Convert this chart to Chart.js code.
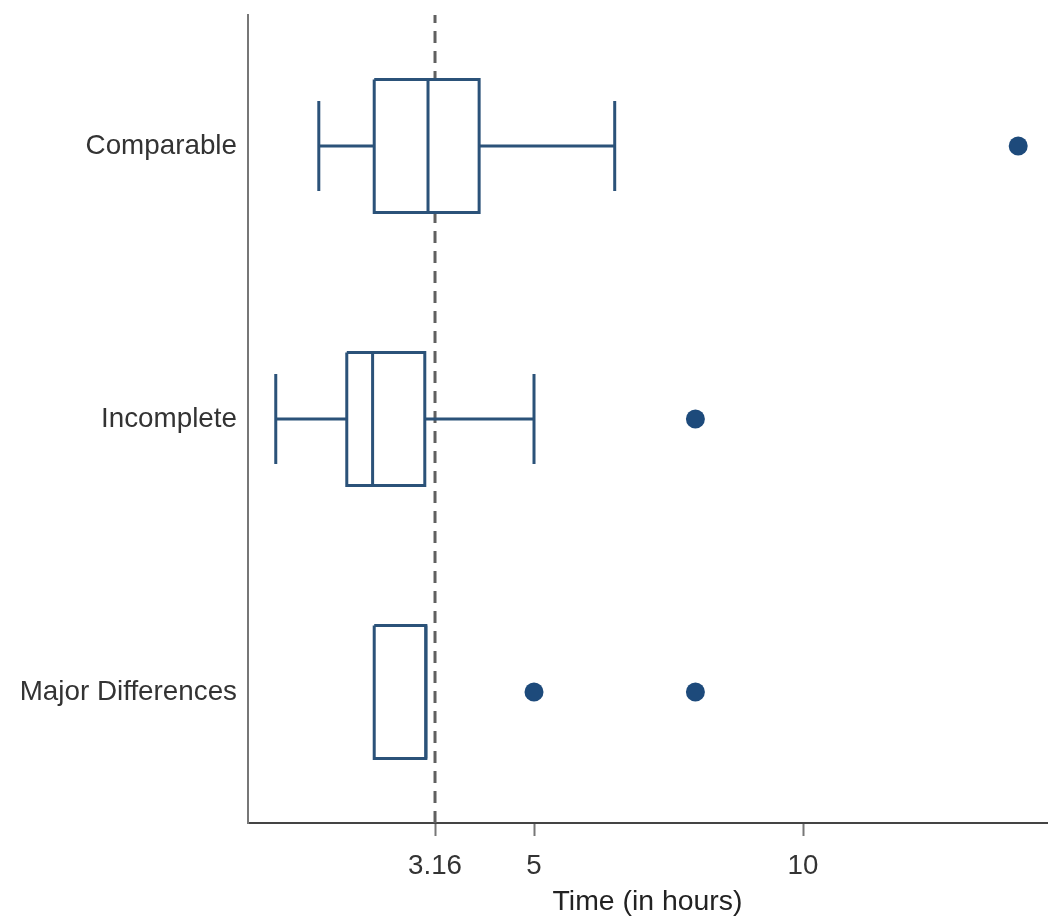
<!DOCTYPE html>
<html><head><meta charset="utf-8">
<script src="https://cdn.jsdelivr.net/npm/chart.js@4/dist/chart.umd.min.js"></script>
<style>html,body{margin:0;padding:0;background:#fff;overflow:hidden}canvas{display:block}</style>
</head><body>
<canvas id="c" width="1050" height="918"></canvas>
<script>
// ---- data ----
const categories = ['Comparable', 'Incomplete', 'Major Differences'];
const whiskerLow = [1.0, 0.2, null];
const q1 = [2.03, 1.52, 2.03];
const median = [3.03, 2.0, 2.99];
const q3 = [3.98, 2.97, 2.99];
const whiskerHigh = [6.5, 5.0, null];
const outliers = [[14.0], [8.0], [5.0, 8.0]];
const referenceLine = 3.16;
const xTickValues = [3.16, 5, 10];
const xTitle = 'Time (in hours)';

// ---- styling ----
const BOX_COLOR = '#2b5279';
const DOT_COLOR = '#1d4a7b';
const BOX_HALF = 0.2436;
const CAP_HALF = 0.165;
const X_MIN = -0.316, X_MAX = 14.535;
const Y_MIN = -0.48, Y_MAX = 2.48;

// pick a condensed sans if present, otherwise size a regular sans to the reference widths
const probe = document.createElement('canvas').getContext('2d');
function fontExists(f) {
  probe.font = '40px monospace';
  const a = probe.measureText('Major Differences 3.16').width;
  probe.font = `40px '${f}', monospace`;
  return Math.abs(probe.measureText('Major Differences 3.16').width - a) > 0.5;
}
const narrow = ['Liberation Sans Narrow', 'Arial Narrow'].find(fontExists);
const FAMILY = narrow ? `'${narrow}', 'Liberation Sans', sans-serif` : `'Liberation Sans', Arial, sans-serif`;
function fitSize(text, targetWidth) {
  probe.font = `100px ${FAMILY}`;
  return Math.round(10 * 100 * targetWidth / probe.measureText(text).width) / 10;
}
const Y_LABEL_SIZE = fitSize('Major Differences', 217);
const X_TICK_SIZE = fitSize('3.16', 54);
const TITLE_SIZE = fitSize(xTitle, 190);

const pos = i => categories.length - 1 - i;
const lineDs = (pts, extra) => Object.assign({
  data: pts, showLine: true, borderColor: BOX_COLOR, borderWidth: 3,
  pointRadius: 0, pointHoverRadius: 0, tension: 0, fill: false,
  borderCapStyle: 'butt', borderJoinStyle: 'miter', order: 2
}, extra || {});

const datasets = [];
datasets.push(lineDs([{x: referenceLine, y: Y_MIN}, {x: referenceLine, y: Y_MAX}],
  {borderColor: '#606060', borderWidth: 3, borderDash: [12, 8], order: 10}));

categories.forEach((c, i) => {
  const y = pos(i);
  datasets.push(lineDs([
    {x: q1[i], y: y + BOX_HALF}, {x: q3[i], y: y + BOX_HALF},
    {x: q3[i], y: y - BOX_HALF}, {x: q1[i], y: y - BOX_HALF},
    {x: q1[i], y: y + BOX_HALF}
  ], {fill: 'shape', backgroundColor: '#ffffff', order: 5}));
  datasets.push(lineDs([{x: median[i], y: y + BOX_HALF}, {x: median[i], y: y - BOX_HALF}], {order: 1}));
  if (whiskerLow[i] !== null) {
    datasets.push(lineDs([{x: whiskerLow[i], y: y}, {x: q1[i], y: y}]));
    datasets.push(lineDs([{x: whiskerLow[i], y: y + CAP_HALF}, {x: whiskerLow[i], y: y - CAP_HALF}]));
  }
  if (whiskerHigh[i] !== null) {
    datasets.push(lineDs([{x: q3[i], y: y}, {x: whiskerHigh[i], y: y}]));
    datasets.push(lineDs([{x: whiskerHigh[i], y: y + CAP_HALF}, {x: whiskerHigh[i], y: y - CAP_HALF}]));
  }
  datasets.push({
    data: outliers[i].map(v => ({x: v, y: y})),
    pointRadius: 9.5, pointHoverRadius: 9.5,
    backgroundColor: DOT_COLOR, borderColor: DOT_COLOR, borderWidth: 0,
    showLine: false, order: 0
  });
});

new Chart(document.getElementById('c'), {
  type: 'scatter',
  data: {datasets},
  options: {
    responsive: false, animation: false, devicePixelRatio: 1,
    layout: {autoPadding: false, padding: {top: 15, right: 3, left: 0, bottom: 0}},
    plugins: {legend: {display: false}, tooltip: {enabled: false}},
    scales: {
      x: {
        type: 'linear', min: X_MIN, max: X_MAX,
        afterBuildTicks: s => { s.ticks = xTickValues.map(v => ({value: v})); },
        afterFit: s => { s.height = 95; s.paddingLeft = 0; s.paddingRight = 0; },
        border: {display: true, color: '#444', width: 2},
        grid: {drawOnChartArea: false, drawTicks: true, tickLength: 13, tickColor: '#777', tickWidth: 2},
        ticks: {
          padding: 14, color: '#333', maxRotation: 0, autoSkip: false,
          font: {family: FAMILY, size: X_TICK_SIZE},
          callback: v => String(v)
        },
        title: {display: true, text: xTitle, color: '#222',
          font: {family: FAMILY, size: TITLE_SIZE, lineHeight: 1}, padding: {top: 0, bottom: 2}}
      },
      y: {
        type: 'linear', min: Y_MIN, max: Y_MAX,
        afterBuildTicks: s => { s.ticks = categories.map((c, i) => ({value: pos(i)})); },
        afterFit: s => { s.width = 248; s.paddingTop = 0; s.paddingBottom = 0; },
        border: {display: true, color: '#777', width: 2},
        grid: {drawOnChartArea: false, drawTicks: false},
        ticks: {
          padding: 11, color: '#333', autoSkip: false,
          font: {family: FAMILY, size: Y_LABEL_SIZE},
          callback: v => categories[categories.length - 1 - v]
        }
      }
    }
  }
});
</script>
</body></html>
